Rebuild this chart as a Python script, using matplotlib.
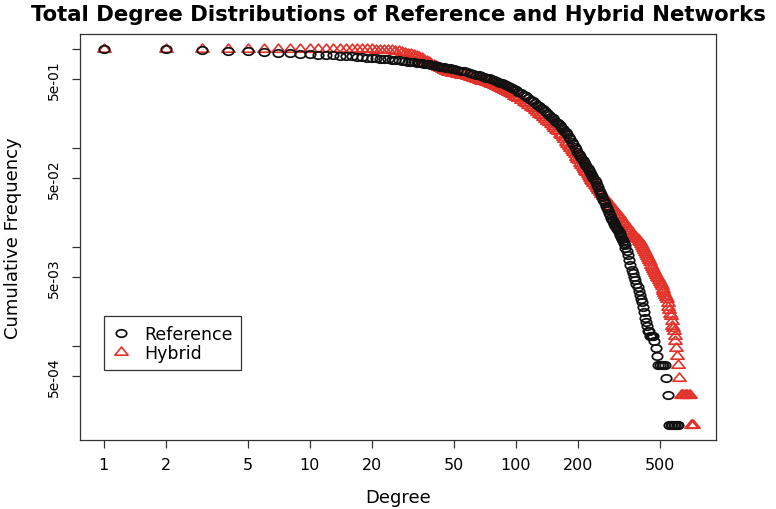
# Distribuicao cumulativa do grau total: rede de referencia x rede hibrida

import matplotlib.pyplot as plt
from matplotlib.path import Path
from matplotlib.ticker import FixedLocator, FixedFormatter, NullLocator

plt.rcParams['font.family'] = ['DejaVu Sans']

# --- dados: grau e frequencia cumulativa P(K >= k)
ref_deg = [1, 2, 3, 4, 5, 6, 7, 8, 9, 10, 11, 12, 13, 14, 15, 16, 17, 18, 19, 20,
           21, 22, 23, 24, 25, 26, 27, 28, 29, 30, 31, 32, 33, 34, 35, 36, 37, 38, 39, 40,
           41, 42, 43, 44, 45, 46, 47, 48, 49, 50,
           52, 54, 56, 58, 60, 62, 64, 66, 68, 70, 72, 74, 76, 78, 80, 82, 84, 86, 88, 90,
           92, 94, 96, 98, 100,
           103, 106, 109, 112, 115, 118, 121, 124, 127, 130, 133, 136, 139, 142, 145, 148,
           151, 154, 157, 160, 163, 166, 169, 172, 175, 178, 181, 184, 187, 190, 193, 196,
           199, 202, 205, 208, 211, 214, 217, 220, 223, 226, 229, 232, 235, 238, 241, 244,
           247, 250, 253, 256, 259, 262, 265, 268, 271, 274, 277, 280, 283, 286, 289, 292,
           295, 298, 301, 304, 307, 310, 313, 316, 319, 322, 325, 328, 331, 334, 337, 340,
           345, 350, 355, 360, 365, 370, 375, 380, 385, 390, 395, 400, 405, 410, 415, 420,
           425, 430,
           435, 440, 445, 450, 455, 460, 465, 470, 478, 485, 490, 500, 510, 520, 530, 538,
           548, 556, 565, 575, 585, 595, 605, 610]
ref_freq = [1.0, 0.995, 0.975, 0.958, 0.945, 0.932, 0.92, 0.907, 0.896, 0.885,
            0.878, 0.870, 0.863, 0.857, 0.850, 0.842, 0.835, 0.827, 0.818, 0.810,
            0.804, 0.798, 0.792, 0.786, 0.780, 0.773, 0.766, 0.759, 0.752, 0.745,
            0.740, 0.734, 0.728, 0.722, 0.716, 0.710, 0.704, 0.698, 0.691, 0.685,
            0.678, 0.672, 0.666, 0.660, 0.654, 0.648, 0.642, 0.636, 0.630, 0.625,
            0.615, 0.605, 0.595, 0.583, 0.572, 0.562, 0.552, 0.542, 0.532, 0.522,
            0.513, 0.504, 0.495, 0.486, 0.477, 0.468, 0.459, 0.450, 0.441, 0.432,
            0.422, 0.413, 0.404, 0.394, 0.385,
            0.371, 0.358, 0.344, 0.332, 0.320, 0.308, 0.296, 0.285, 0.275, 0.265,
            0.255, 0.245, 0.235, 0.226, 0.216, 0.208, 0.200, 0.192, 0.185, 0.178,
            0.171, 0.164, 0.157, 0.150, 0.144, 0.137, 0.130, 0.123, 0.116, 0.109,
            0.103, 0.097, 0.092, 0.087, 0.083, 0.079, 0.076, 0.072, 0.069, 0.066,
            0.063, 0.060, 0.057, 0.054, 0.052, 0.050, 0.047, 0.045, 0.042, 0.040,
            0.038, 0.036, 0.034, 0.032, 0.030, 0.029, 0.0275, 0.026, 0.025, 0.0235,
            0.022, 0.021, 0.0197, 0.0189, 0.0182, 0.0176, 0.0170, 0.0164, 0.0158, 0.0153,
            0.0148, 0.0142, 0.0137, 0.0132, 0.0126, 0.0121, 0.0116, 0.0110, 0.0104, 0.0098,
            0.0090, 0.0082, 0.0073, 0.0065, 0.0059, 0.0054, 0.0050, 0.0046, 0.0042, 0.0039,
            0.0036, 0.0033, 0.0030, 0.0028, 0.0025, 0.0022, 0.0019, 0.00175,
            0.00159, 0.00143, 0.00143, 0.00127, 0.00127, 0.00127, 0.00127, 0.00111,
            0.00095, 0.00079, 0.000635, 0.000635, 0.000635, 0.000635, 0.000635, 0.000476,
            0.000317, 0.000159, 0.000159, 0.000159, 0.000159, 0.000159, 0.000159, 0.000159]

hyb_deg = [1, 2, 3, 4, 5, 6, 7, 8, 9, 10, 11, 12, 13, 14, 15, 16, 17, 18, 19, 20,
           21, 22, 23, 24, 25, 26, 27, 28, 29, 30, 31, 32, 33, 34, 35, 36, 37, 38, 39, 40,
           41, 42, 43, 44, 45, 46, 47, 48, 49, 50,
           52, 54, 56, 58, 60, 62, 64, 66, 68, 70, 72, 74, 76, 78, 80, 82, 84, 86, 88, 90,
           92, 94, 96, 98, 100,
           103, 106, 109, 112, 115, 118, 121, 124, 127, 130, 133, 136, 139, 142, 145, 148,
           151, 154, 157, 160, 163, 166, 169, 172, 175, 178, 181, 184, 187, 190, 193, 196,
           199, 202, 205, 208, 211, 214, 217, 220, 223, 226, 229, 232, 235, 238, 241, 244,
           247, 250,
           255, 260, 265, 270, 275, 280, 285, 290, 295, 300, 305, 310, 315, 320, 325, 330,
           335, 340, 345, 350, 355, 360, 365, 370, 375, 380, 385, 390, 395, 400, 405, 410,
           415, 420, 425, 430, 435, 440, 445, 450, 455, 460, 465, 470, 475, 480, 485, 490,
           495, 500, 505, 510, 515, 520, 525, 530, 535, 540,
           545, 550, 555, 560, 565, 570, 575, 580, 585, 590, 595, 600, 605, 612, 620, 630,
           640, 650, 660, 670, 680, 690, 700, 705, 712, 720]
hyb_freq = [1.0, 1.0, 1.0, 1.0, 1.0, 1.0, 1.0, 1.0, 1.0, 1.0,
            0.999, 0.999, 0.998, 0.998, 0.997, 0.996, 0.995, 0.994, 0.993, 0.991,
            0.988, 0.985, 0.980, 0.975, 0.968, 0.958, 0.946, 0.932, 0.917, 0.900,
            0.884, 0.866, 0.846, 0.826, 0.804, 0.782, 0.758, 0.735, 0.712, 0.690,
            0.670, 0.652, 0.636, 0.622, 0.610, 0.600, 0.592, 0.585, 0.578, 0.572,
            0.562, 0.551, 0.542, 0.532, 0.522, 0.512, 0.502, 0.491, 0.480, 0.470,
            0.460, 0.450, 0.441, 0.431, 0.422, 0.412, 0.403, 0.394, 0.384, 0.375,
            0.366, 0.357, 0.348, 0.339, 0.330,
            0.318, 0.305, 0.293, 0.282, 0.271, 0.261, 0.251, 0.241, 0.232, 0.223,
            0.214, 0.205, 0.197, 0.189, 0.181, 0.174, 0.167, 0.160, 0.153, 0.147,
            0.140, 0.134, 0.128, 0.122, 0.116, 0.111, 0.105, 0.100, 0.095, 0.091,
            0.087, 0.082, 0.078, 0.075, 0.071, 0.068, 0.065, 0.062, 0.059, 0.057,
            0.054, 0.052, 0.050, 0.048, 0.046, 0.044, 0.042, 0.041, 0.039, 0.0375,
            0.036, 0.034, 0.0325, 0.031, 0.0295, 0.028, 0.027, 0.0255, 0.0245, 0.0235,
            0.0226, 0.0217, 0.0208, 0.020, 0.0192, 0.0184, 0.0176, 0.0169, 0.0162, 0.0156,
            0.015, 0.0144, 0.0139, 0.0134, 0.013, 0.0126, 0.0122, 0.0119, 0.0115, 0.0111,
            0.0107, 0.0103, 0.0098, 0.0094, 0.0089, 0.0085, 0.0081, 0.0077, 0.0073, 0.0070,
            0.0066, 0.0063, 0.006, 0.0057, 0.0054, 0.0052, 0.005, 0.0048, 0.0046, 0.0044,
            0.0042, 0.0040, 0.0038, 0.0036, 0.0034, 0.0033, 0.0031, 0.0030,
            0.0027, 0.0025, 0.0023, 0.0021, 0.0020, 0.0018, 0.0016, 0.0015, 0.0014, 0.00127,
            0.00111, 0.00095, 0.00079, 0.000635, 0.000476, 0.000317, 0.000317, 0.000317,
            0.000317, 0.000317, 0.000317, 0.000317, 0.000317, 0.000159, 0.000159, 0.000159]

x_ticks = [1, 2, 5, 10, 20, 50, 100, 200, 500]
x_labels = ['1', '2', '5', '10', '20', '50', '100', '200', '500']
y_ticks = [1, 0.5, 0.1, 0.05, 0.01, 0.005, 0.001, 0.0005]
y_labels = ['', '5e-01', '', '5e-02', '', '5e-03', '', '5e-04']

# marcadores estilo R (pch 1 e pch 2), levemente alargados na horizontal
sx = 1.4
circ = Path.unit_circle()
circ_mk = Path(circ.vertices * [sx, 1.0], circ.codes)
tri_mk = Path([(0, 1.555), (1.347 * sx, -0.778), (-1.347 * sx, -0.778), (0, 1.555)],
              [Path.MOVETO, Path.LINETO, Path.LINETO, Path.CLOSEPOLY])

red = '#e2322a'
frame = '#333333'

fig = plt.figure(figsize=(7.76, 5.10), dpi=100)
ax = fig.add_axes([80 / 776, 1 - 441 / 510, 636 / 776, 406 / 510])

# hibrida primeiro, referencia por cima
ax.plot(hyb_deg, hyb_freq, linestyle='none', marker=tri_mk, ms=9.5, mfc='none',
        mec=red, mew=1.2, label='Hybrid', zorder=2)
ax.plot(ref_deg, ref_freq, linestyle='none', marker=circ_mk, ms=7.5, mfc='none',
        mec='#111111', mew=1.25, label='Reference', zorder=3)

ax.set_xscale('log')
ax.set_yscale('log')
ax.set_xlim(0.769, 936)
ax.set_ylim(1.12e-4, 1.419)

ax.xaxis.set_major_locator(FixedLocator(x_ticks))
ax.xaxis.set_major_formatter(FixedFormatter(x_labels))
ax.xaxis.set_minor_locator(NullLocator())
ax.yaxis.set_major_locator(FixedLocator(y_ticks))
ax.yaxis.set_major_formatter(FixedFormatter(y_labels))
ax.yaxis.set_minor_locator(NullLocator())

ax.tick_params(axis='both', direction='out', length=6, width=0.9, color=frame)
ax.tick_params(axis='x', labelsize=11.5, pad=6)
ax.tick_params(axis='y', labelsize=10, pad=8)
for lab in ax.get_yticklabels():
    lab.set_rotation(90)
    lab.set_va('center')

for sp in ax.spines.values():
    sp.set_color(frame)
    sp.set_linewidth(0.9)

ax.set_title('Total Degree Distributions of Reference and Hybrid Networks',
             fontsize=15.3, fontweight='bold', pad=10)
ax.set_xlabel('Degree', fontsize=13)
ax.xaxis.set_label_coords(0.5, -0.118)
ax.set_ylabel('Cumulative Frequency', fontsize=13)
ax.yaxis.set_label_coords(-0.091, 0.5)

# legenda com a ordem Reference / Hybrid
h, l = ax.get_legend_handles_labels()
leg = ax.legend(h[::-1], l[::-1], loc='upper left', bbox_to_anchor=(0.0377, 0.305),
                borderaxespad=0, fontsize=12.5, handlelength=1.0, handletextpad=0.8,
                labelspacing=0.05, borderpad=0.5, fancybox=False, framealpha=1)
leg.get_frame().set_edgecolor(frame)
leg.get_frame().set_linewidth(0.9)

fig.savefig('out.png', dpi=100)
